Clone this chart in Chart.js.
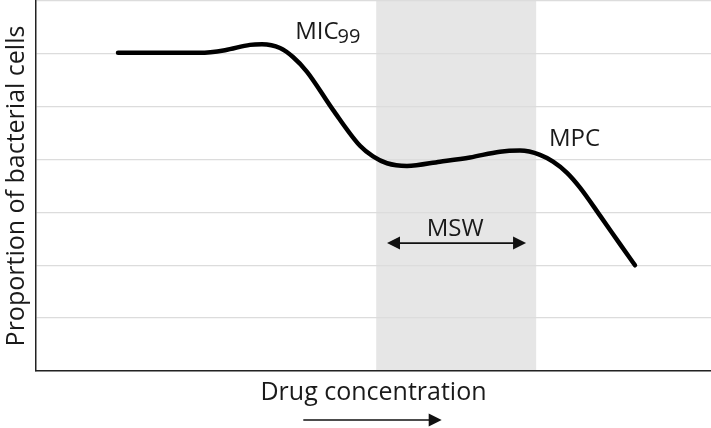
<!DOCTYPE html>
<html>
<head>
<meta charset="utf-8">
<script src="https://cdn.jsdelivr.net/npm/chart.js@4.4.0/dist/chart.umd.min.js"></script>
<style>
  html, body { margin: 0; padding: 0; background: #fff; }
  #wrap { width: 711px; height: 428px; position: relative; }
</style>
</head>
<body>
<div id="wrap"><canvas id="mswChart"></canvas></div>
<script>
// curve (x: drug concentration 0-100, y: proportion 0-7)
const concX = [12.15, 24.3, 28.0, 31.7, 33.48, 36.15, 38.07, 40.15, 44.0, 48.0, 49.93,
  52.0, 54.96, 59.85, 64.3, 68.74, 71.7, 74.67, 76.6, 78.67, 80.59, 83.56, 86.52, 88.74];
const cellsY = [6.02, 6.02, 6.07, 6.17, 6.18, 6.11, 5.94, 5.66, 4.94, 4.26, 4.06,
  3.93, 3.88, 3.96, 4.04, 4.15, 4.17, 4.09, 3.96, 3.75, 3.47, 2.94, 2.40, 2.0];

// mutant selection window (shaded band) and its arrow
const mswRange = [50.4, 74.1];
const mswArrow = [52.0, 72.6];
const mswArrowLevel = 2.42;

// text labels: [text, subscript, x, y baseline, align]
const curveLabels = [
  ['MIC', '99', 38.4, 6.28, 'left'],
  ['MPC', '', 76.0, 4.25, 'left'],
  ['MSW', '', 62.1, 2.55, 'center']
];

const xTitle = 'Drug concentration';
const yTitle = 'Proportion of bacterial cells';
const xArrow = [39.6, 60.1];

const FONT = '"Open Sans", sans-serif';

function drawArrow(ctx, x1, x2, y, both) {
  const head = 13, half = 6.5;
  ctx.save();
  ctx.strokeStyle = '#111';
  ctx.fillStyle = '#111';
  ctx.lineWidth = 1.6;
  ctx.beginPath();
  ctx.moveTo(both ? x1 + head - 2 : x1, y);
  ctx.lineTo(x2 - head + 2, y);
  ctx.stroke();
  ctx.beginPath();
  ctx.moveTo(x2, y);
  ctx.lineTo(x2 - head, y - half);
  ctx.lineTo(x2 - head, y + half);
  ctx.closePath();
  ctx.fill();
  if (both) {
    ctx.beginPath();
    ctx.moveTo(x1, y);
    ctx.lineTo(x1 + head, y - half);
    ctx.lineTo(x1 + head, y + half);
    ctx.closePath();
    ctx.fill();
  }
  ctx.restore();
}

const bandPlugin = {
  id: 'band',
  beforeDraw(chart) {
    const { ctx, chartArea, scales } = chart;
    const x1 = scales.x.getPixelForValue(mswRange[0]);
    const x2 = scales.x.getPixelForValue(mswRange[1]);
    ctx.save();
    ctx.fillStyle = '#e6e6e6';
    ctx.fillRect(x1, chartArea.top, x2 - x1, chartArea.bottom - chartArea.top);
    ctx.restore();
  }
};

const labelPlugin = {
  id: 'labels',
  afterDatasetsDraw(chart) {
    const { ctx, scales, chartArea } = chart;
    ctx.save();
    ctx.fillStyle = '#1a1a1a';
    ctx.textBaseline = 'alphabetic';
    curveLabels.forEach(([txt, sub, x, y, align]) => {
      const px = scales.x.getPixelForValue(x);
      const py = scales.y.getPixelForValue(y);
      ctx.font = '24px ' + FONT;
      ctx.textAlign = align;
      ctx.fillText(txt, px, py);
      if (sub) {
        const w = ctx.measureText(txt).width;
        ctx.font = '20px ' + FONT;
        ctx.textAlign = 'left';
        ctx.fillText(sub, px + w - 1, py + 4);
      }
    });
    drawArrow(ctx, scales.x.getPixelForValue(mswArrow[0]), scales.x.getPixelForValue(mswArrow[1]),
      scales.y.getPixelForValue(mswArrowLevel), true);
    drawArrow(ctx, scales.x.getPixelForValue(xArrow[0]), scales.x.getPixelForValue(xArrow[1]),
      chartArea.bottom + 49, false);
    ctx.restore();
  }
};

new Chart(document.getElementById('mswChart').getContext('2d'), {
  type: 'line',
  data: {
    datasets: [{
      data: concX.map((x, i) => ({ x: x, y: cellsY[i] })),
      borderColor: '#000',
      borderWidth: 4.5,
      borderCapStyle: 'round',
      borderJoinStyle: 'round',
      cubicInterpolationMode: 'monotone',
      pointRadius: 0,
      fill: false
    }]
  },
  options: {
    responsive: true,
    maintainAspectRatio: false,
    animation: false,
    layout: { padding: { top: 1, right: 0, bottom: 20, left: 0 } },
    plugins: { legend: { display: false }, tooltip: { enabled: false } },
    scales: {
      x: {
        type: 'linear', min: 0, max: 100,
        ticks: { display: false },
        grid: { display: false, drawTicks: false },
        border: { display: true, color: '#222', width: 1.5 },
        title: { display: true, text: xTitle, color: '#1a1a1a', font: { family: FONT, size: 25 }, padding: { top: 7, bottom: 0 } }
      },
      y: {
        min: 0, max: 7,
        ticks: { display: false, stepSize: 1 },
        grid: { color: '#dcdcdc', lineWidth: 1.3, drawTicks: false },
        border: { display: true, color: '#222', width: 1.5 },
        title: { display: true, text: yTitle, color: '#1a1a1a', font: { family: FONT, size: 25 }, padding: { top: 2, bottom: 4 } }
      }
    }
  },
  plugins: [bandPlugin, labelPlugin]
});
</script>
</body>
</html>
